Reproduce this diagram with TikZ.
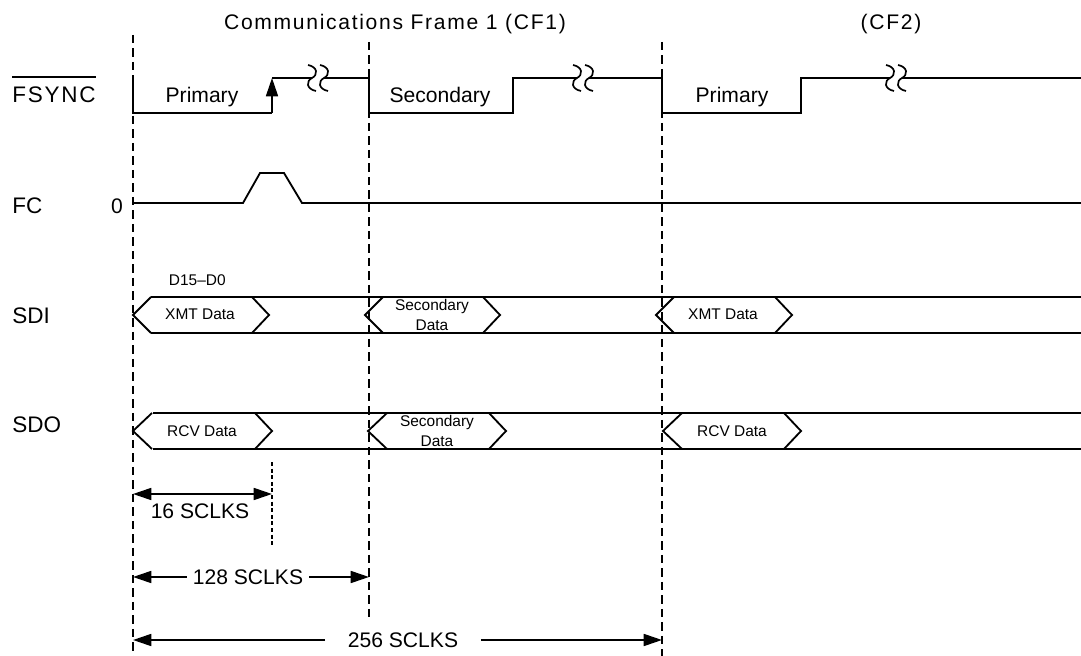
\documentclass[tikz,border=0pt]{standalone}
\usepackage{fontspec}
\setmainfont{Liberation Sans}
\newfontfamily\widefont{Liberation Sans}[LetterSpace=8]
\usetikzlibrary{arrows.meta}

\tikzset{
       sig/.style={line width=1.3pt},
       cfline/.style={line width=1.2pt, dash pattern=on 6pt off 3.6pt},
       clkmark/.style={line width=0.8pt, dash pattern=on 2.8pt off 1.9pt},
       lbl/.style={font=\fontsize{16}{19}\selectfont, anchor=base west, inner sep=0pt},
       txt/.style={font=\fontsize{15}{18}\selectfont, anchor=base},
       ttl/.style={font=\widefont\fontsize{15}{18}\selectfont, anchor=base},
       sml/.style={font=\fontsize{11}{14}\selectfont, anchor=base},
       brk/.pic={
              \foreach \d in {-6,6}
                     \draw[line width=1.2pt] (\d-4,-13) .. controls (\d+6,-11) and (\d+6,-3) .. (\d,0) .. controls (\d-6,3) and (\d-6,11) .. (\d+4,13);
       },
       >={Triangle[length=13pt,width=8.5pt]}
}

\begin{document}
\begin{tikzpicture}[x=0.025cm,y=-0.025cm]
       \useasboundingbox (0,0) rectangle (1081,656);

       \node(CF1)[ttl] at (395,30) {Communications Frame 1 (CF1)};
       \node(CF2)[ttl] at (891,30) {(CF2)};

       \draw[cfline] (133,35) -- (133,656);
       \draw[cfline] (369,42) -- (369,622);
       \draw[cfline] (662,42) -- (662,656);
       \draw[clkmark] (272,462) -- (272,546);

       \node(NFS)[lbl,font=\widefont\fontsize{16}{19}\selectfont] at (12,103) {FSYNC};
       \draw[line width=1pt] ([yshift=7pt]NFS.north west) -- ([yshift=7pt]NFS.north east);
       \node(NFC)[lbl] at (12,214) {FC};
       \node(NSDI)[lbl] at (12,323) {SDI};
       \node(NSDO)[lbl] at (12,433) {SDO};
       \node(N0)[txt] at (117,214) {0};

       \draw[sig] (133,78) -- (133,113) -- (272,113);
       \draw[sig,->] (272,113) -- (272,78);
       \draw[sig] (272,78) -- (312,78);
       \pic at (318,78) {brk};
       \draw[sig] (324,78) -- (369,78) -- (369,113) -- (513,113) -- (513,78) -- (577,78);
       \pic at (583,78) {brk};
       \draw[sig] (589,78) -- (662,78) -- (662,113) -- (801,113) -- (801,78) -- (890,78);
       \pic at (896,78) {brk};
       \draw[sig] (902,78) -- (1081,78);

       \node(P1)[txt] at (202,103) {Primary};
       \node(S1)[txt] at (440,103) {Secondary};
       \node(P2)[txt] at (732,103) {Primary};

       \draw[sig] (133,203) -- (243,203) -- (260,173) -- (284,173) -- (302,203) -- (1081,203);

       \draw[sig] (151,297) -- (1081,297);
       \draw[sig] (151,333) -- (1081,333);
       \foreach \a/\b in {133/252, 365/483, 656/775}{
              \draw[sig] (\a+18,297) -- (\a,315) -- (\a+18,333);
              \draw[sig] (\b,297) -- (\b+17,315) -- (\b,333);
       }
       \node(D15)[sml,anchor=base west] at (164,286) {D15--D0};
       \node(X1)[sml] at (200,320) {XMT Data};
       \node(X2)[sml,align=center,anchor=center] at (432,315) {Secondary\\Data};
       \node(X3)[sml] at (723,320) {XMT Data};

       \draw[sig] (153,413) -- (1081,413);
       \draw[sig] (153,449) -- (1081,449);
       \foreach \a/\b in {133/255, 368/489, 663/784}{
              \draw[sig] (\a+19,413) -- (\a,431) -- (\a+19,449);
              \draw[sig] (\b,413) -- (\b+17,431) -- (\b,449);
       }
       \node(R1)[sml] at (202,437) {RCV Data};
       \node(R2)[sml,align=center,anchor=center] at (437,431) {Secondary\\Data};
       \node(R3)[sml] at (732,437) {RCV Data};

       \coordinate(A16) at (133,494);
       \coordinate(B16) at (272,494);
       \draw[sig,<->] (A16) -- (B16);
       \node(N16)[txt] at (200,518) {16 SCLKS};

       \coordinate(A128) at (133,577);
       \coordinate(B128) at (369,577);
       \node(N128)[txt,anchor=center,inner xsep=4pt] at (248,577) {128 SCLKS};
       \draw[sig,->] (N128.west) -- (A128);
       \draw[sig,->] (N128.east) -- (B128);

       \coordinate(A256) at (133,640);
       \coordinate(B256) at (662,640);
       \node(N256)[txt,anchor=center,inner xsep=16pt] at (403,640) {256 SCLKS};
       \draw[sig,->] (N256.west) -- (A256);
       \draw[sig,->] (N256.east) -- (B256);
\end{tikzpicture}
\end{document}
